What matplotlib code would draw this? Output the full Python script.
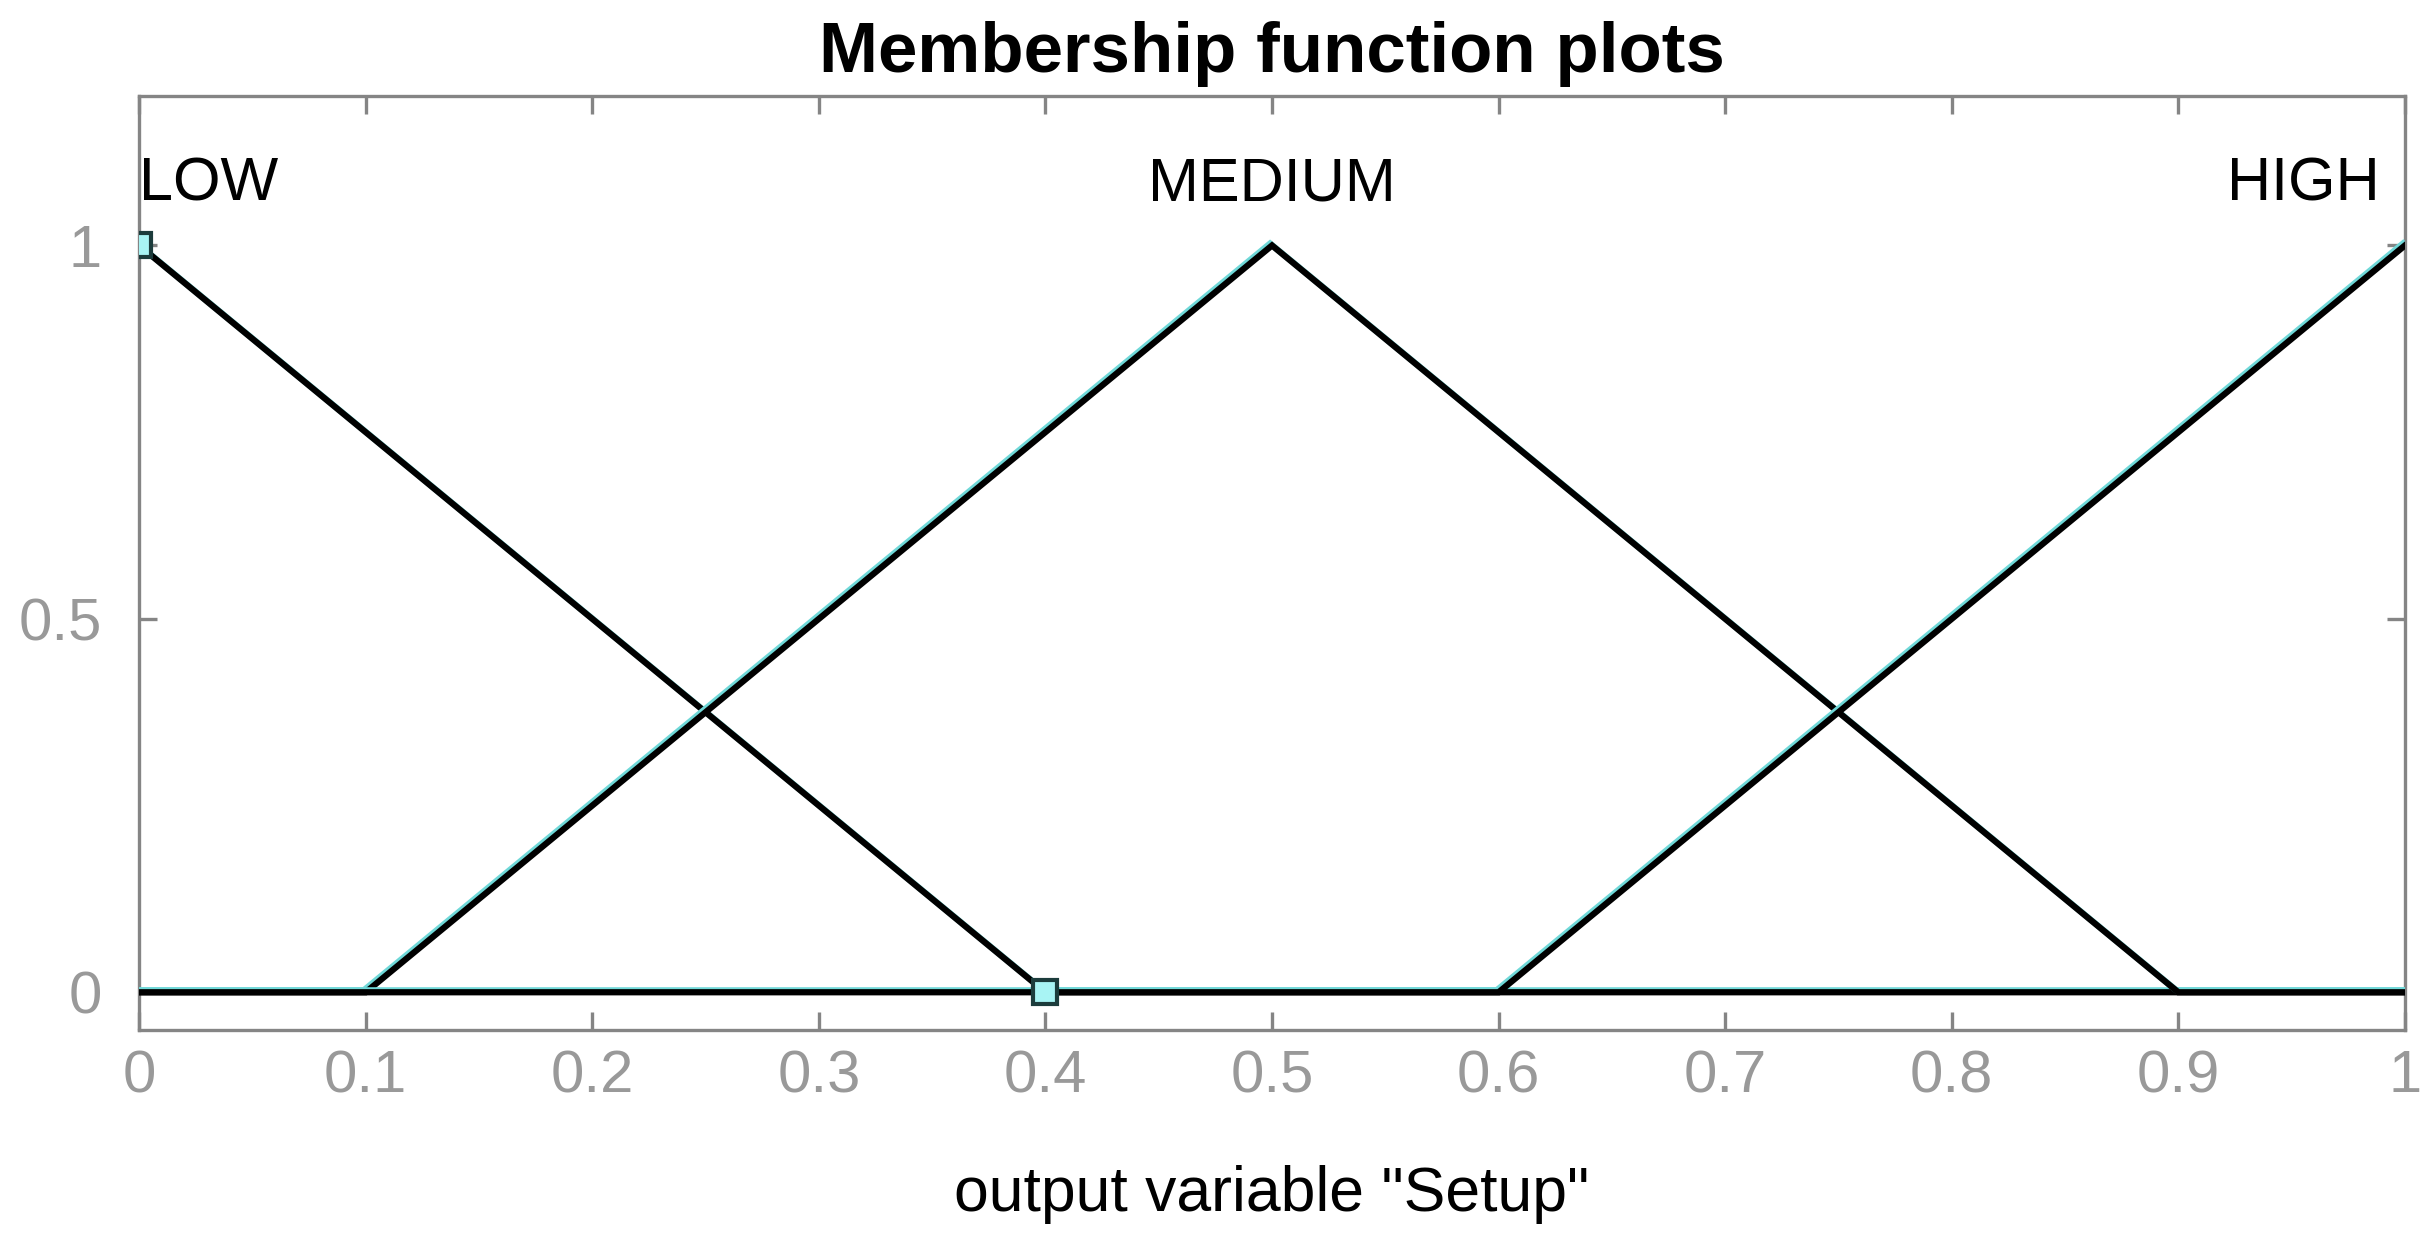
import matplotlib
matplotlib.use("Agg")
import matplotlib.pyplot as plt
import matplotlib.patheffects as pe

# membership function vertices over the output range [0, 1]
low_x = [0, 0.4, 1]
low_y = [1, 0, 0]
medium_x = [0, 0.1, 0.5, 0.9, 1]
medium_y = [0, 0, 1, 0, 0]
high_x = [0, 0.6, 1]
high_y = [0, 0, 1]

mf_names = ["LOW", "MEDIUM", "HIGH"]
mf_label_x = [0, 0.5, 0.989]
mf_label_align = ["left", "center", "right"]

marker_x = [0, 0.4]
marker_y = [1, 0]

x_ticks = [0, 0.1, 0.2, 0.3, 0.4, 0.5, 0.6, 0.7, 0.8, 0.9, 1]
x_tick_labels = ["0", "0.1", "0.2", "0.3", "0.4", "0.5", "0.6", "0.7", "0.8", "0.9", "1"]
y_ticks = [0, 0.5, 1]
y_tick_labels = ["0", "0.5", "1"]

plt.rcParams['font.family'] = ['Liberation Sans', 'DejaVu Sans']

fig = plt.figure(figsize=(24.28, 12.48), dpi=100)
ax = fig.add_axes([0.0573, 0.175, 0.9332, 0.748])

fringe = [pe.SimpleLineShadow(offset=(-1.4, 1.4), shadow_color="#6fd8d8", alpha=1.0, rho=1.0),
          pe.Normal()]

for xs, ys in [(low_x, low_y), (medium_x, medium_y), (high_x, high_y)]:
    ax.plot(xs, ys, color="black", linewidth=4.5, solid_joinstyle="miter",
            path_effects=fringe, zorder=3)

ax.plot(marker_x, marker_y, linestyle="none", marker="s", markersize=17,
        markerfacecolor="#a8f4f4", markeredgecolor="#1c3c3c", markeredgewidth=3, zorder=4)

for name, lx, ha in zip(mf_names, mf_label_x, mf_label_align):
    ax.text(lx, 1.06, name, ha=ha, va="baseline", fontsize=44, color="black")

ax.set_xlim(0, 1)
ax.set_ylim(-0.05, 1.2)
ax.set_xticks(x_ticks)
ax.set_xticklabels(x_tick_labels)
ax.set_yticks(y_ticks)
ax.set_yticklabels(y_tick_labels)

gray = "#858585"
for s in ax.spines.values():
    s.set_color(gray)
    s.set_linewidth(2.4)
ax.tick_params(axis="both", which="both", direction="in", top=True, right=True,
               length=13, width=2.4, color=gray, labelcolor="#999999", labelsize=43)
ax.tick_params(axis="x", pad=14)
ax.tick_params(axis="y", pad=27)

ax.set_xlabel('output variable "Setup"', fontsize=45, color="black", labelpad=44)
ax.set_title("Membership function plots", fontsize=51, fontweight="bold", pad=17)

fig.savefig("out.png", dpi=100, facecolor="white")
